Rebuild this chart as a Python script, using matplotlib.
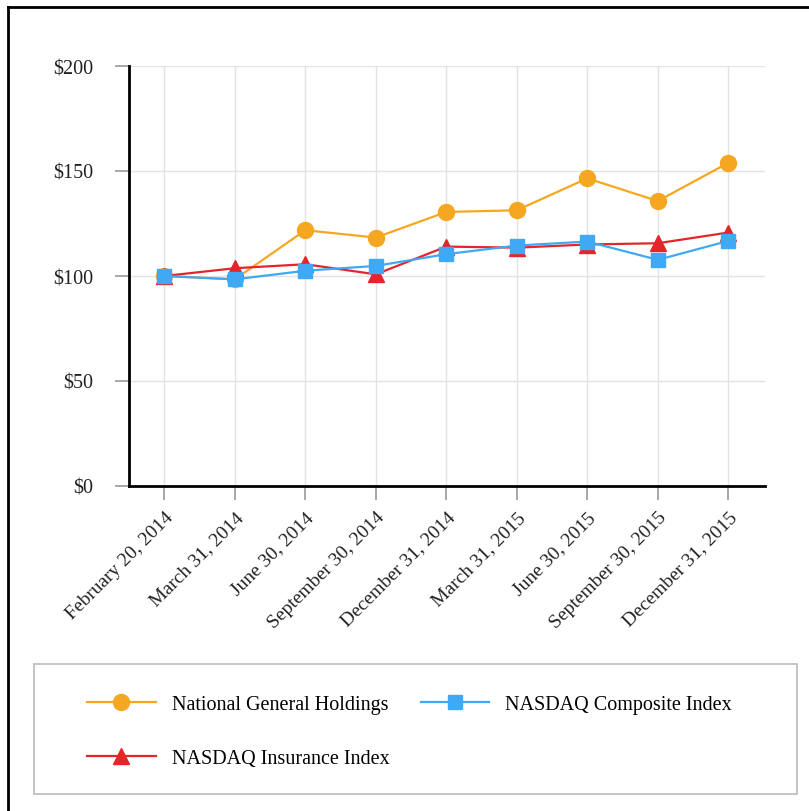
import numpy as np
import matplotlib
matplotlib.use("Agg")
import matplotlib.pyplot as plt
from matplotlib.lines import Line2D
from matplotlib.patches import Rectangle

dates = ["February 20, 2014", "March 31, 2014", "June 30, 2014", "September 30, 2014",
         "December 31, 2014", "March 31, 2015", "June 30, 2015", "September 30, 2015",
         "December 31, 2015"]
ngh = [100, 98.4, 121.8, 118.3, 130.5, 131.3, 146.5, 135.7, 153.9]
nasdaq_comp = [100, 98.4, 102.5, 104.8, 110.4, 114.5, 116.4, 107.7, 116.7]
nasdaq_ins = [100, 103.7, 105.6, 100.8, 114.0, 113.5, 115.0, 115.6, 120.7]
yticks = [0, 50, 100, 150, 200]

ORANGE = "#f6a722"
BLUE = "#3fa9f5"
RED = "#e4252a"

plt.rcParams["font.family"] = ["Liberation Serif", "DejaVu Serif"]

fig = plt.figure(figsize=(8.09, 8.12), dpi=100)
ax = fig.add_axes([129 / 809, 1 - 487 / 812, (765 - 129) / 809, (487 - 67) / 812])

x = np.arange(len(dates))
ax.plot(x, ngh, color=ORANGE, lw=1.6, marker="o", ms=11.5, label="National General Holdings", zorder=3)
ax.plot(x, nasdaq_ins, color=RED, lw=1.6, marker="^", ms=11, label="NASDAQ Insurance Index", zorder=4)
ax.plot(x, nasdaq_comp, color=BLUE, lw=1.6, marker="s", ms=10.5, label="NASDAQ Composite Index", zorder=5)

ax.set_xlim(-0.5, 8.52)
ax.set_ylim(0, 200)
ax.set_yticks(yticks)
ax.set_yticklabels([f"${v}" for v in yticks], fontsize=14.5)
ax.set_xticks(x)
ax.set_xticklabels(dates, rotation=45, ha="right", rotation_mode="anchor", fontsize=14)
ax.tick_params(axis="both", colors="#999999", labelcolor="#222222", length=10, width=1.2)
ax.tick_params(axis="x", pad=6)
ax.tick_params(axis="y", pad=16)
ax.grid(True, color="#e3e3e3", lw=1)
ax.set_axisbelow(True)
for s in ("top", "right"):
    ax.spines[s].set_visible(False)
for s in ("left", "bottom"):
    ax.spines[s].set_linewidth(2)
    ax.spines[s].set_color("black")

# outer frame (left and top edges visible)
fig.add_artist(Line2D([8 / 809, 8 / 809], [0, 1 - 8 / 812], transform=fig.transFigure, color="black", lw=2))
fig.add_artist(Line2D([8 / 809, 1], [1 - 8 / 812, 1 - 8 / 812], transform=fig.transFigure, color="black", lw=2))

# legend box
fig.add_artist(Rectangle((34 / 809, 1 - 795 / 812), (797 - 34) / 809, (795 - 665) / 812,
                         transform=fig.transFigure, fill=False, ec="#bbbbbb", lw=1.2))
handles, labels = ax.get_legend_handles_labels()
leg = fig.legend(handles, labels,
                 loc="upper left", bbox_to_anchor=(69 / 809, 1 - 678 / 812), ncol=2,
                 frameon=False, fontsize=14.5, handlelength=3.4, columnspacing=1.55,
                 labelspacing=1.7, handletextpad=0.8)

fig.savefig("out.png", dpi=100, facecolor="white")
